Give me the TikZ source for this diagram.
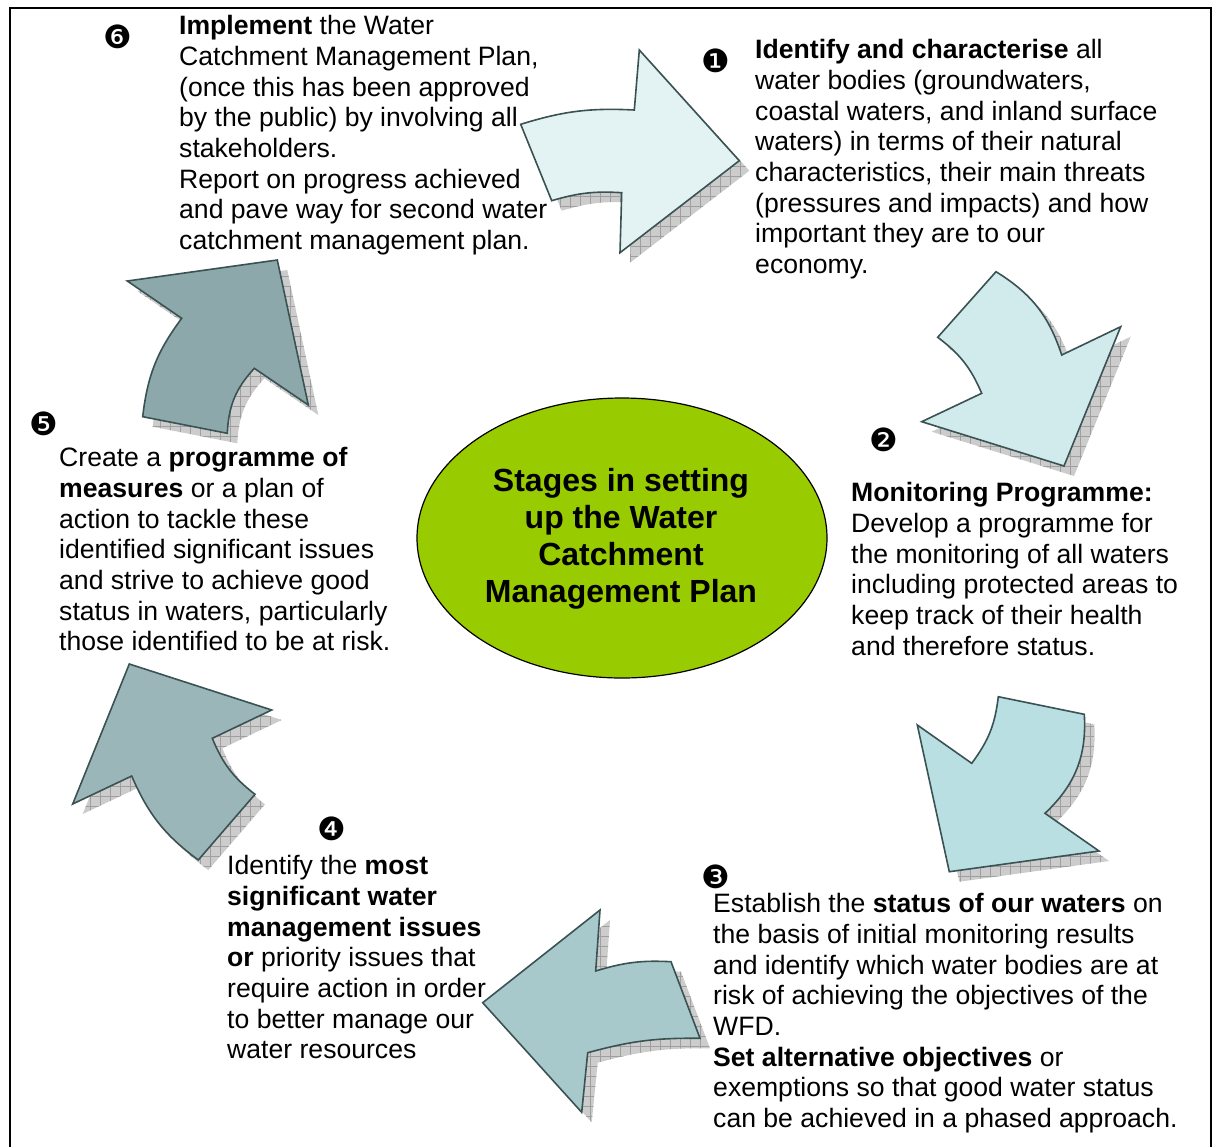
\documentclass[tikz,border=0pt]{standalone}
\usepackage{fontspec}
\setmainfont{Liberation Sans}
\newfontfamily\dingfont{DejaVu Sans}
\usetikzlibrary{shapes.geometric,patterns.meta}
\definecolor{arrline}{HTML}{3B5253}
\definecolor{aone}{HTML}{E3F2F3}
\definecolor{atwo}{HTML}{D1EAEC}
\definecolor{athree}{HTML}{B9DFE3}
\definecolor{afour}{HTML}{A8C9CB}
\definecolor{afive}{HTML}{9BB6B8}
\definecolor{asix}{HTML}{8DA8AA}
\definecolor{hubgreen}{HTML}{99CC00}
\newcommand\pathA{(520.7,124.3) to[bend left=10] (634.3,110) -- (639.3,50) -- (739.3,160.7) -- (620,252.7) -- (621.7,192.7) to[bend right=10] (551.7,200.7) -- cycle}
\newcommand\pathB{(937.7,337.3) -- (996,271.7) to[bend left=20] (1061.7,355) -- (1120.7,326.7) -- (1064,466) -- (921.7,421.7) -- (981.7,393.3) to[bend right=15] (937.7,337.3) -- cycle}
\newcommand\pathC{(998.3,696.7) -- (1084.3,714.3) to[bend left=25] (1045,813.3) -- (1099,851) -- (949.3,871.7) -- (917.3,725) -- (971.7,763.3) to[bend right=15] (998.3,696.7) -- cycle}
\newcommand\pathD{(600,910) -- (595.7,971) to[bend left=10] (671,961.7) -- (700,1038.3) to[bend right=8] (587.7,1052.7) -- (581.7,1112.3) -- (482.7,1002.7) -- cycle}
\newcommand\pathE{(129.3,664) -- (271.7,710) -- (212.3,738.3) to[bend right=15] (255,794.3) -- (198.3,860) to[bend left=15] (131.7,776) -- (72.7,804) -- cycle}
\newcommand\pathF{(127.3,281) -- (277.3,260) -- (308.3,405) -- (254.3,368.3) to[bend right=20] (227.3,433.3) -- (142.7,416.7) to[bend left=15] (181.7,318.3) -- cycle}
\tikzset{
  txt/.style={anchor=north west, inner sep=0pt, align=left, font=\fontsize{26.6}{30.7}\selectfont},
  num/.style={inner sep=0pt, font=\dingfont\fontsize{32}{32}\selectfont},
  arr/.style={draw=arrline, line width=1.6pt, line join=miter},
  shad/.style={fill=gray!40, postaction={pattern={Hatch[angle=0,distance=10pt,line width=0.5pt]}, pattern color=gray!75}},
}
\begin{document}
\begin{tikzpicture}[x=1pt,y=-1pt]
\useasboundingbox (0,0) rectangle (1212,1146);
\fill[white] (0,0) rectangle (1212,1146);
\draw[line width=2pt] (9.5,1150) -- (9.5,8) -- (1210.5,8) -- (1210.5,1150);
% shadows
\begin{scope}[shift={(10,10)}]
\fill[shad] \pathA; \fill[shad] \pathB; \fill[shad] \pathC;
\fill[shad] \pathD; \fill[shad] \pathE; \fill[shad] \pathF;
\end{scope}
% arrows
\filldraw[arr, fill=aone] \pathA;
\filldraw[arr, fill=atwo] \pathB;
\filldraw[arr, fill=athree] \pathC;
\filldraw[arr, fill=afour] \pathD;
\filldraw[arr, fill=afive] \pathE;
\filldraw[arr, fill=asix] \pathF;
% hub
\node[ellipse, draw, line width=1.2pt, fill=hubgreen, minimum width=410pt, minimum height=280pt, inner sep=0pt] (hub) at (622,538) {};
\node[align=center, inner sep=0pt, font=\bfseries\fontsize{32}{37}\selectfont] (hubtext) at (621,539) {Stages in setting\\up the Water\\Catchment\\Management Plan};
% numbers
\node[num] (n1) at (716,61) {❶};
\node[num] (n2) at (884,440) {❷};
\node[num] (n3) at (716,877) {❸};
\node[num] (n4) at (332,829) {❹};
\node[num] (n5) at (44,424) {❺};
\node[num] (n6) at (118,37) {❻};
% texts
\node[txt] (t6) at (179,13) {\strut\textbf{Implement} the Water\\Catchment Management Plan,\\(once this has been approved\\by the public) by involving all\\stakeholders.\\Report on progress achieved\\and pave way for second water\\catchment management plan.};
\node[txt] (t1) at (755,37) {\strut\textbf{Identify and characterise} all\\water bodies (groundwaters,\\coastal waters, and inland surface\\waters) in terms of their natural\\characteristics, their main threats\\(pressures and impacts) and how\\important they are to our\\economy.};
\node[txt] (t2) at (851,480) {\strut\textbf{Monitoring Programme:}\\Develop a programme for\\the monitoring of all waters\\including protected areas to\\keep track of their health\\and therefore status.};
\node[txt] (t3) at (713,891) {\strut Establish the \textbf{status of our waters} on\\the basis of initial monitoring results\\and identify which water bodies are at\\risk of achieving the objectives of the\\WFD.\\\textbf{Set alternative objectives} or\\exemptions so that good water status\\can be achieved in a phased approach.};
\node[txt] (t4) at (227,853) {\strut Identify the \textbf{most}\\\textbf{significant water}\\\textbf{management issues}\\\textbf{or} priority issues that\\require action in order\\to better manage our\\water resources};
\node[txt] (t5) at (59,445) {\strut Create a \textbf{programme of}\\\textbf{measures} or a plan of\\action to tackle these\\identified significant issues\\and strive to achieve good\\status in waters, particularly\\those identified to be at risk.};
\end{tikzpicture}
\end{document}
